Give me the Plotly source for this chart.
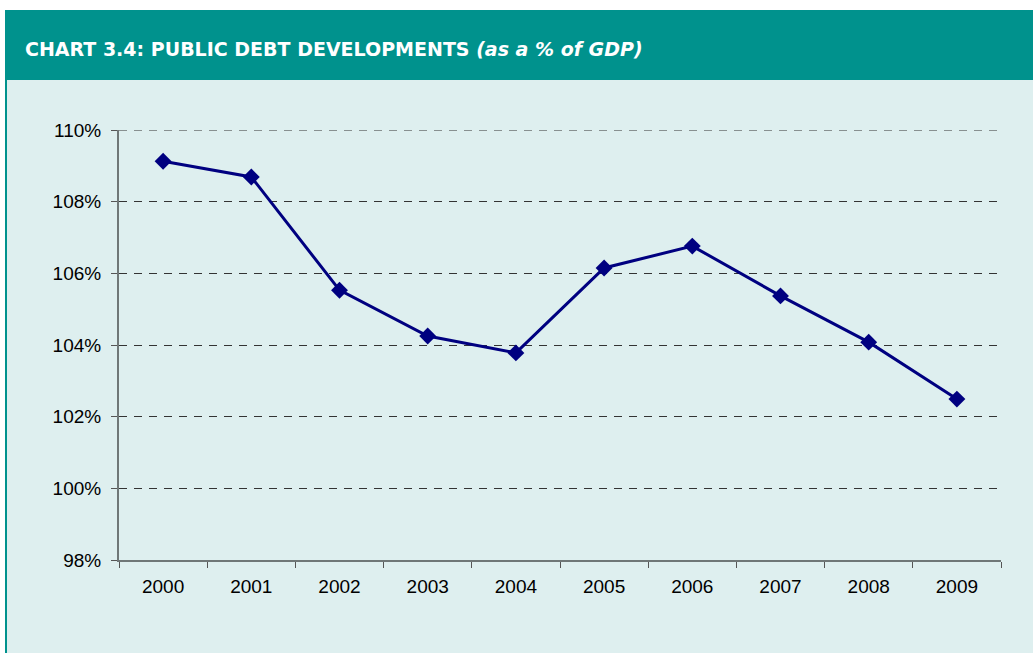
import plotly.graph_objects as go

years = ["2000", "2001", "2002", "2003", "2004", "2005", "2006", "2007", "2008", "2009"]
debt_pct = [109.13, 108.69, 105.53, 104.25, 103.78, 106.15, 106.76, 105.37, 104.08, 102.49]
y_ticks = [98, 100, 102, 104, 106, 108, 110]
y_tick_labels = [f"{v}%" for v in y_ticks]

W, H = 1033, 653
L, R, T, B = 119, 1001, 130, 560
pw, ph = R - L, B - T

def px(x):
    return (x - L) / pw

def py(y):
    return (B - y) / ph

TEAL = "#00928D"
LIGHT = "#DEEFEF"

fig = go.Figure()
fig.add_trace(go.Scatter(
    x=years, y=debt_pct, mode="lines+markers",
    line=dict(color="#000080", width=3),
    marker=dict(symbol="diamond", size=13, color="#000080"),
    showlegend=False, hoverinfo="x+y",
))

shapes = [
    dict(type="rect", xref="paper", yref="paper", x0=px(5), x1=px(1040), y0=py(80), y1=py(660),
         fillcolor=LIGHT, line=dict(width=0), layer="below"),
    dict(type="rect", xref="paper", yref="paper", x0=px(5), x1=px(7), y0=py(80), y1=py(660),
         fillcolor=TEAL, line=dict(width=0), layer="below"),
    dict(type="rect", xref="paper", yref="paper", x0=px(5), x1=px(1040), y0=py(10), y1=py(80),
         fillcolor=TEAL, line=dict(width=0), layer="below"),
    # top gridline (at the edge of the range, which plotly does not draw)
    dict(type="line", xref="paper", yref="y", x0=0, x1=1, y0=y_ticks[-1], y1=y_ticks[-1],
         line=dict(color="#333333", width=1, dash="8px,7px"), layer="below"),
]

fig.update_layout(
    width=W, height=H,
    margin=dict(l=L, r=W - R, t=T, b=H - B, pad=0),
    paper_bgcolor="white", plot_bgcolor="rgba(0,0,0,0)",
    shapes=shapes,
    font=dict(family="Liberation Sans, Arial, sans-serif", size=19, color="black"),
    annotations=[dict(
        xref="paper", yref="paper", x=px(23), y=py(49), xanchor="left", yanchor="middle",
        text="<b>CHART 3.4: PUBLIC DEBT DEVELOPMENTS <i>(as a % of GDP)</i></b>",
        showarrow=False, font=dict(family="DejaVu Sans, sans-serif", size=19, color="white"),
    )],
    xaxis=dict(
        type="category", range=[-0.5, 9.5], tickson="boundaries",
        ticks="outside", ticklen=6, tickcolor="#555", showline=True, linecolor="#6f7777",
        linewidth=2, showgrid=False, tickfont=dict(size=19), zeroline=False,
        ticklabelstandoff=8,
    ),
    yaxis=dict(
        range=[98, 110], tickvals=y_ticks, ticktext=y_tick_labels,
        ticks="outside", ticklen=6, tickcolor="#555", showline=True, linecolor="#6f7777",
        linewidth=2, showgrid=True, gridcolor="#333333", gridwidth=1,
        griddash="8px,7px", tickfont=dict(size=19), zeroline=False, ticklabelstandoff=6,
    ),
)

fig.write_html("out.html")
